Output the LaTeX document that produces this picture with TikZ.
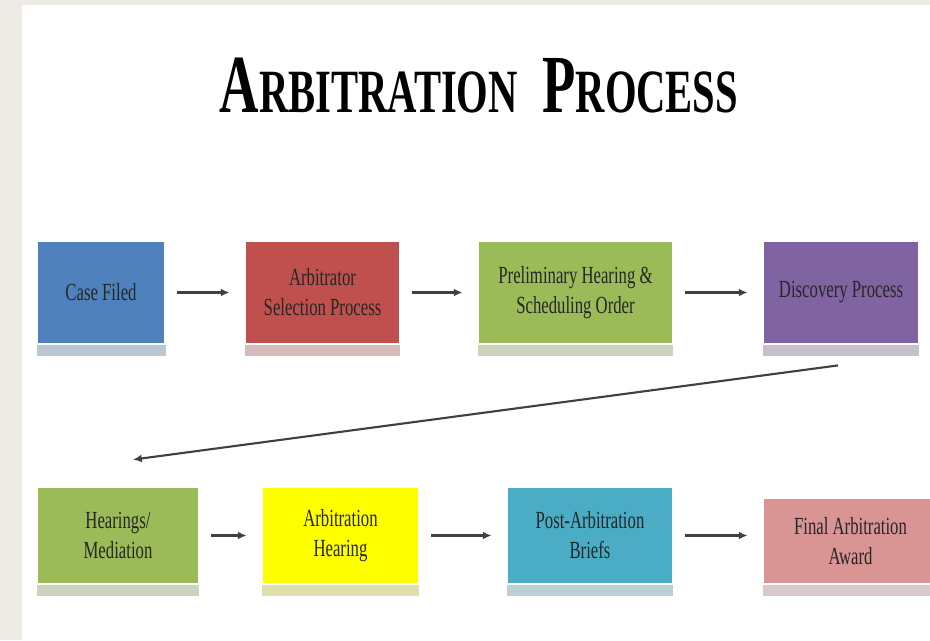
\documentclass[tikz,border=0pt]{standalone}
\usepackage{fontspec}
\setmainfont{Liberation Serif}
\newfontfamily\boxfont[FakeStretch=0.68]{Liberation Serif}
\newfontfamily\titlefont[FakeStretch=0.66]{Liberation Serif}
\usetikzlibrary{arrows.meta,shadows,calc}

\newlength{\du}
\setlength{\du}{0.02cm}

\definecolor{pagebeige}{RGB}{238,235,228}
\definecolor{caseblue}{RGB}{79,129,189}
\definecolor{selectred}{RGB}{192,80,77}
\definecolor{stepgreen}{RGB}{155,187,89}
\definecolor{discpurple}{RGB}{128,100,162}
\definecolor{hearyellow}{RGB}{255,255,0}
\definecolor{briefcyan}{RGB}{75,172,198}
\definecolor{awardpink}{RGB}{217,149,148}

\tikzset{
  stepbox/.style={rectangle, inner sep=0pt, fill=#1, draw=white, line width=1.6pt,
    text=black!85, align=center, font=\boxfont\fontsize{14}{17}\selectfont,
    drop shadow={shadow xshift=0pt, shadow yshift=-7pt, fill=#1!45!gray!45, opacity=1}},
  flow/.style={-{Latex[length=5pt,width=4.5pt]}, line width=1.2pt, draw=black!75,
    shorten <=6pt, shorten >=8pt}
}

\begin{document}
\begin{tikzpicture}[x=\du, y=-\du]
\useasboundingbox (0,0) rectangle (930,640);
\clip (0,0) rectangle (930,640);
\fill[pagebeige] (0,0) rectangle (22,640);
\fill[pagebeige] (0,0) rectangle (930,5);

\node[anchor=base, font=\titlefont\bfseries] (title) at (479,112)
  {{\fontsize{47}{50}\selectfont A}\fontsize{35}{40}\selectfont RBITRATION\hspace{14pt}{\fontsize{47}{50}\selectfont P}ROCESS};

% first row
\node[stepbox=caseblue, minimum width=129\du, minimum height=103\du] (case) at (101,292.5) {Case Filed};
\node[stepbox=selectred, minimum width=155\du, minimum height=103\du] (select) at (322.5,292.5) {Arbitrator\\Selection Process};
\node[stepbox=stepgreen, minimum width=195\du, minimum height=103\du] (prelim) at (575.5,292.5) {Preliminary Hearing \&\\Scheduling Order};
\node[stepbox=discpurple, minimum width=156\du, minimum height=103\du] (disc) at (841,292.5) {Discovery Process};

% second row
\node[stepbox=stepgreen, minimum width=162\du, minimum height=97\du] (hear) at (118,535.5) {Hearings/\\Mediation};
\node[stepbox=hearyellow, minimum width=157\du, minimum height=97\du] (arbhear) at (340.5,535.5) {Arbitration\\Hearing};
\node[stepbox=briefcyan, minimum width=166\du, minimum height=97\du] (post) at (590,535.5) {Post-Arbitration\\Briefs};
\node[stepbox=awardpink, minimum width=175\du, minimum height=86\du] (final) at (850.5,541) {Final Arbitration\\Award};

\draw[flow] (case) -- (select);
\draw[flow] (select) -- (prelim);
\draw[flow] (prelim) -- (disc);
\draw[flow, shorten <=0pt, shorten >=0pt] ($(disc.south)+(-3,20)$) -- ($(hear.north)+(15,-26)$);
\draw[flow] (hear) -- (arbhear);
\draw[flow] (arbhear) -- (post);
\draw[flow] (post.east) -- (post.east -| final.west);
\end{tikzpicture}
\end{document}
